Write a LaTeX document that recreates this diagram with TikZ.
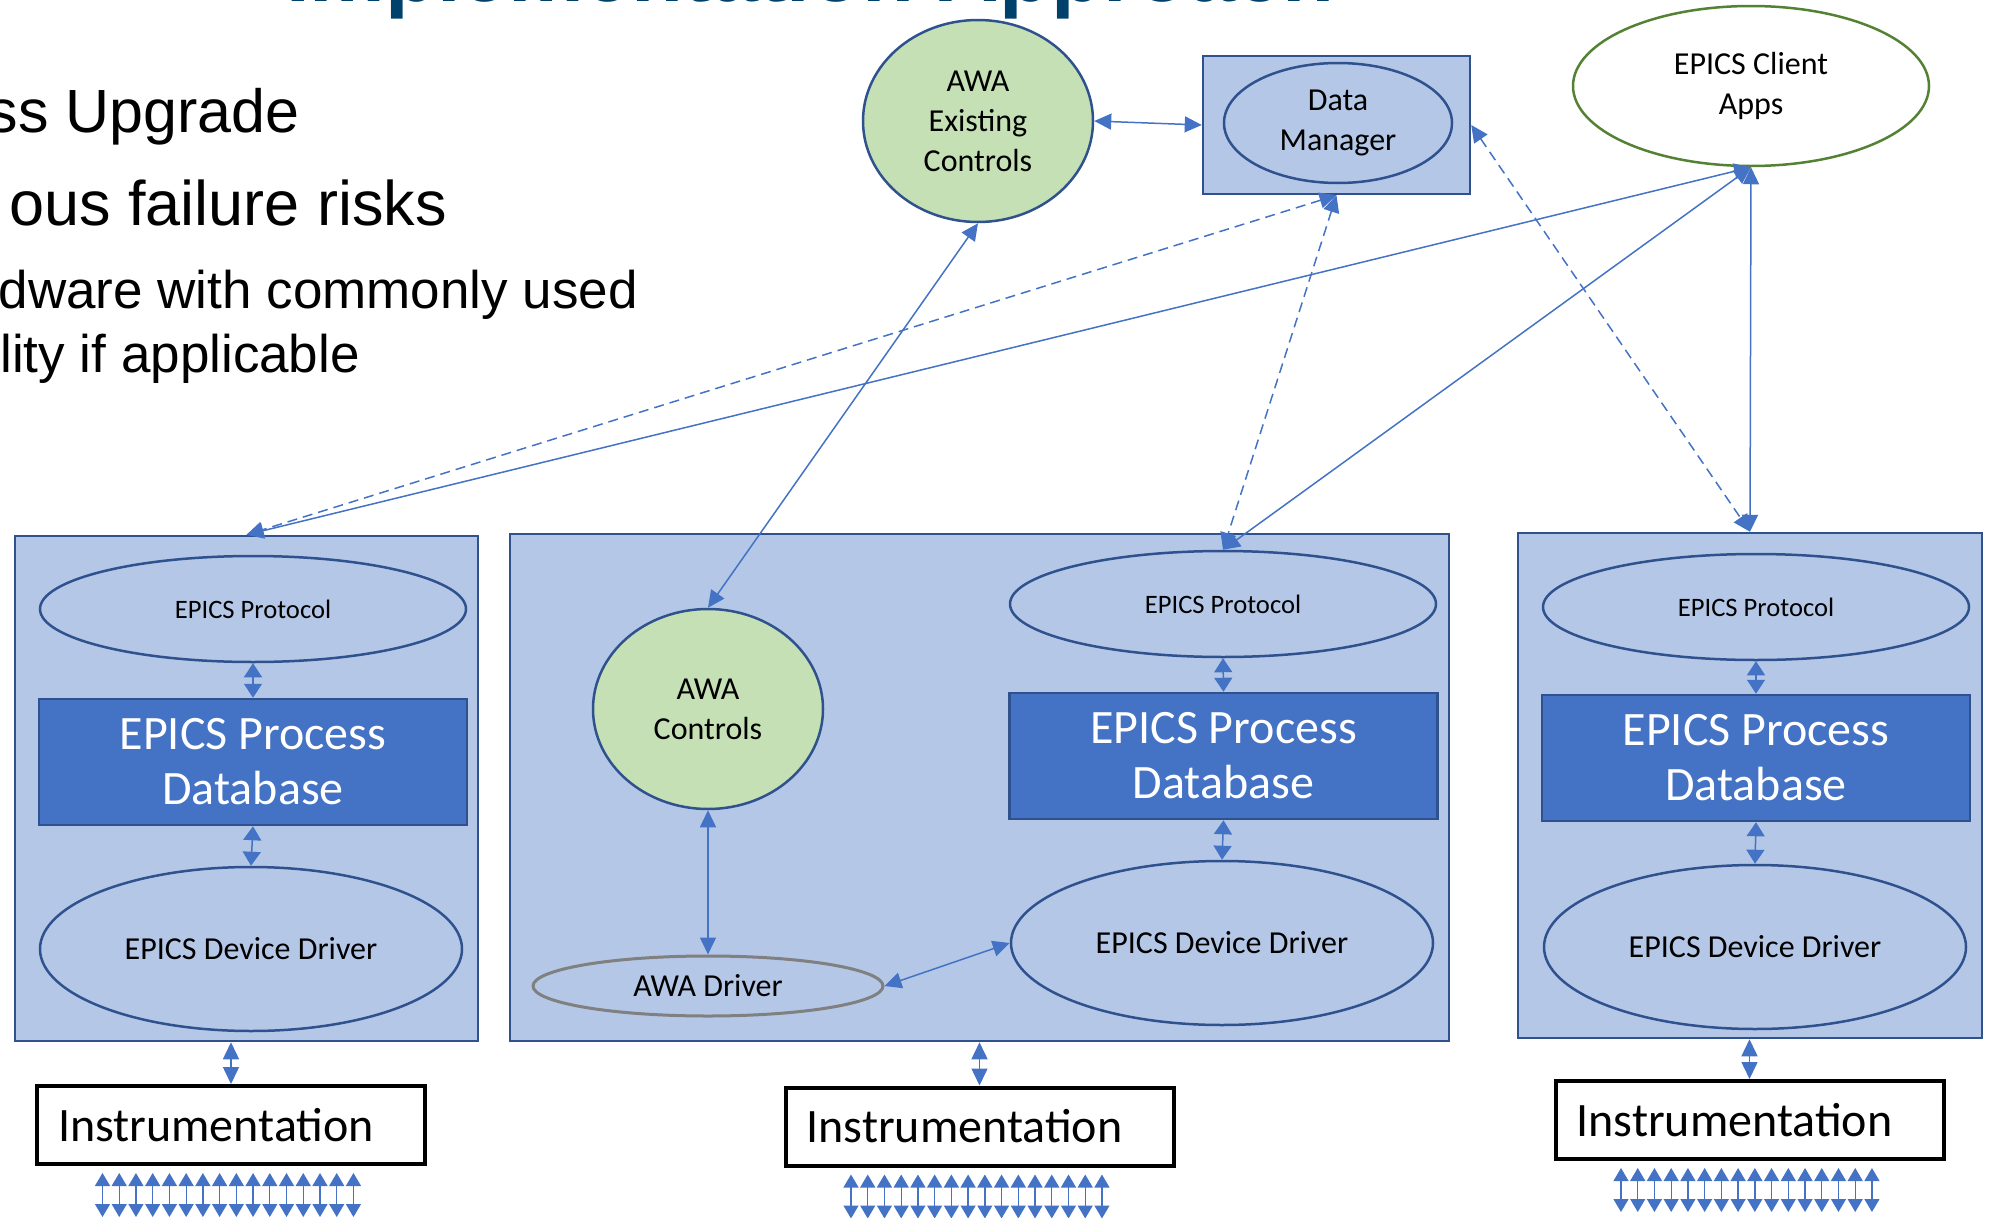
\documentclass[tikz,border=0pt]{standalone}
\usepackage{fontspec}
\setmainfont{Carlito}
\newfontfamily\arialfont{Liberation Sans}
\usetikzlibrary{shapes.geometric,arrows.meta}
\definecolor{boxfill}{RGB}{180,199,231}
\definecolor{boxline}{RGB}{47,82,143}
\definecolor{dbfill}{RGB}{68,114,196}
\definecolor{linkblue}{RGB}{68,114,196}
\definecolor{awagreen}{RGB}{197,224,180}
\definecolor{clientline}{RGB}{84,130,53}
\definecolor{drvgray}{RGB}{128,128,128}
\definecolor{titleblue}{RGB}{0,65,107}

\begin{document}
\begin{tikzpicture}[x=1pt,y=-1pt,
    container/.style={draw=boxline,fill=boxfill,line width=2.5pt,inner sep=0pt},
    ring/.style={ellipse,draw=boxline,fill=boxfill,line width=2.5pt,inner sep=0pt,align=center,
      font=\fontsize{32}{40}\selectfont},
    smalltext/.style={font=\fontsize{26.6}{32}\selectfont},
    greenring/.style={ring,fill=awagreen},
    pdb/.style={draw=boxline,fill=dbfill,line width=2.5pt,text=white,align=center,
      minimum width=428pt,minimum height=126pt,inner sep=0pt,font=\fontsize{48}{55}\selectfont},
    inst/.style={draw=black,fill=white,line width=4pt,inner xsep=21pt,text width=346pt,
      align=left,minimum height=78pt,font=\fontsize{48}{56}\selectfont},
    link/.style={linkblue,line width=1.5pt,
      {Triangle[length=17pt,width=16pt]}-{Triangle[length=17pt,width=16pt]}},
    dlink/.style={link,dash pattern=on 10pt off 6pt},
    stub/.style={linkblue,line width=1.5pt,
      {Triangle[length=14pt,width=18pt]}-{Triangle[length=14pt,width=18pt]}},
    bus/.style={linkblue,line width=1.3pt,
      {Triangle[length=13pt,width=15pt]}-{Triangle[length=13pt,width=15pt]}},
    slide/.style={font=\arialfont\fontsize{63}{70}\selectfont,anchor=base east,inner sep=0pt},
    slidesub/.style={slide,font=\arialfont\fontsize{53}{60}\selectfont}]

    \useasboundingbox (0,0) rectangle (1990,1218);

    % slide text behind the diagram
    \node[font=\arialfont\bfseries\fontsize{85}{90}\selectfont,text=titleblue,anchor=base west,
      inner sep=0pt] (title) at (286,1.5) {Implementation Approach};
    \node[slide,font=\arialfont\fontsize{61}{70}\selectfont] (bul1) at (300,132) {ss Upgrade};
    \node[slide] (bul2) at (447,225) {ous failure risks};
    \node[slidesub] (bul3) at (638,308) {dware with commonly used};
    \node[slidesub] (bul4) at (360,372) {lity if applicable};

    \node[container,minimum width=463pt,minimum height=505pt] (lbox) at (246.5,788.5) {};
    \node[container,minimum width=939pt,minimum height=507pt] (mbox) at (979.5,787.5) {};
    \node[container,minimum width=464pt,minimum height=505pt] (rbox) at (1750,785.5) {};

    \node[ring,smalltext,minimum width=426pt,minimum height=106pt] (lproto) at (253,609) {EPICS Protocol};
    \node[pdb] (ldb) at (253,762) {EPICS Process\\Database};
    \node[ring,minimum width=422pt,minimum height=164pt] (ldrv) at (251,949) {EPICS Device Driver};

    \node[ring,smalltext,minimum width=426pt,minimum height=106pt] (mproto) at (1223,604) {EPICS Protocol};
    \node[pdb] (mdb) at (1223.5,756) {EPICS Process\\Database};
    \node[ring,minimum width=422pt,minimum height=164pt] (mdrv) at (1222,943) {EPICS Device Driver};

    \node[ring,smalltext,minimum width=426pt,minimum height=106pt] (rproto) at (1756,607) {EPICS Protocol};
    \node[pdb] (rdb) at (1756,758) {EPICS Process\\Database};
    \node[ring,minimum width=422pt,minimum height=164pt] (rdrv) at (1755,947) {EPICS Device Driver};

    \node[greenring,minimum width=230pt,minimum height=200pt] (awactl) at (708,709) {AWA\\Controls};
    \node[ring,draw=drvgray,line width=3pt,minimum width=350pt,minimum height=60pt] (awadrv) at (708,986) {AWA Driver};

    \node[greenring,minimum width=230pt,minimum height=202pt] (awaex) at (978,121) {AWA\\Existing\\Controls};
    \node[container,minimum width=267pt,minimum height=138pt] (dmbox) at (1336.5,125) {};
    \node[ring,minimum width=228pt,minimum height=120pt] (dm) at (1338,123) {Data\\Manager};
    \node[ring,draw=clientline,fill=white,minimum width=356pt,minimum height=160pt] (client) at (1751,86) {EPICS Client\\Apps};

    \node[inst] (inst1) at (231,1125) {Instrumentation};
    \node[inst] (inst2) at (979.5,1126.5) {Instrumentation};
    \node[inst] (inst3) at (1749.5,1120) {Instrumentation};

    \draw[link] (awaex.east) -- (dmbox.west);
    \draw[link] (awaex.south) -- (awactl.north);
    \draw[dlink] (dmbox.east) -- (rbox.north);
    \draw[dlink] (dmbox.south) -- (lbox.north);
    \draw[dlink] (dmbox.south) -- (mproto.north);
    \draw[link] (client.south) -- (lbox.north);
    \draw[link] (client.south) -- (mproto.north);
    \draw[link] (client.south) -- (rbox.north);

    \draw[stub] (lproto.south) -- (ldb.north);
    \draw[stub] (ldb.south) -- (ldrv.north);
    \draw[stub] (mproto.south) -- (mdb.north);
    \draw[stub] (mdb.south) -- (mdrv.north);
    \draw[stub] (rproto.south) -- (rdb.north);
    \draw[stub] (rdb.south) -- (rdrv.north);

    \draw[link] (awactl.south) -- (awadrv.north);
    \draw[link] (awadrv.east) -- (mdrv.west);

    \draw[link] (lbox.south -| inst1.north) -- (inst1.north);
    \draw[link] (mbox.south -| inst2.north) -- (inst2.north);
    \draw[link] (rbox.south -| inst3.north) -- (inst3.north);

    \foreach \n in {inst1,inst2,inst3}
      \foreach \i in {0,...,15}
        \draw[bus] ([xshift={-128.5pt+16.73pt*\i},yshift=-7pt]\n.south) -- ++(0,44);
\end{tikzpicture}
\end{document}
